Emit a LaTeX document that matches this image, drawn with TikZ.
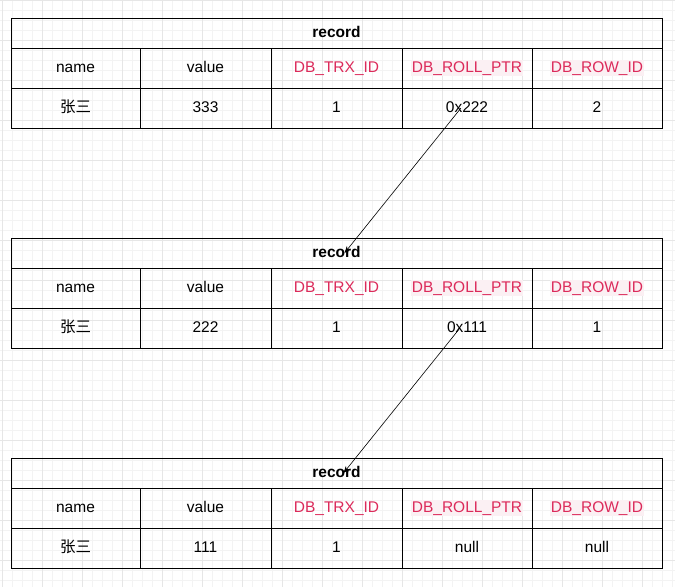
\documentclass[tikz,border=0pt]{standalone}
\usepackage{fontspec}
\setmainfont{Liberation Sans}
\newfontfamily\cjk{Noto Sans CJK SC}
\usetikzlibrary{arrows.meta}
\definecolor{fieldred}{HTML}{DC2A5A}
\definecolor{fieldbg}{HTML}{FBF0F3}
\definecolor{gridminor}{HTML}{F3F3F3}
\definecolor{gridmajor}{HTML}{E6E6E6}
\newcommand{\hl}[1]{{\setlength{\fboxsep}{1pt}\colorbox{fieldbg}{#1}}}
\begin{document}
\begin{tikzpicture}[x=1pt,y=-1pt,
    box/.style={draw, line width=1pt, inner sep=0pt, minimum height=40pt, text height=11pt, text depth=3pt, font=\fontsize{15.5}{18}\selectfont},
    head/.style={box, minimum height=30pt, minimum width=651pt, font=\fontsize{15.5}{18}\selectfont\bfseries},
    field/.style={text=fieldred},
    link/.style={-{Stealth[length=7pt,width=5pt]}, line width=0.6pt}]
        \useasboundingbox (0,0) rectangle (675,587);
        \fill[white] (0,0) rectangle (675,587);

        % grid
        \foreach \x in {2,12,...,672}{
            \draw[gridminor, line width=0.6pt] (\x,0)--(\x,587);
        }
        \foreach \y in {0,10,...,580}{
            \draw[gridminor, line width=0.6pt] (0,\y)--(675,\y);
        }
        \foreach \x in {2,42,...,672}{
            \draw[gridmajor, line width=0.6pt] (\x,0)--(\x,587);
        }
        \foreach \y in {0,40,...,580}{
            \draw[gridmajor, line width=0.6pt] (0,\y)--(675,\y);
        }

        % tables
        \foreach \t/\top/\val/\trx/\ptr/\row in {1/18/333/1/0x222/2, 2/238/222/1/0x111/1, 3/458/111/1/null/null}{
            \node[head] (t\t-head) at (336.5,\top+15) {record};

            \node[box, minimum width=129pt] (t\t-name) at (75.5,\top+50) {name};
            \node[box, minimum width=131pt] (t\t-value) at (205.5,\top+50) {value};
            \node[box, field, minimum width=131pt] (t\t-trx) at (336.5,\top+50) {DB\_TRX\_ID};
            \node[box, field, minimum width=130pt] (t\t-ptr) at (467,\top+50) {\hl{DB\_ROLL\_PTR}};
            \node[box, field, minimum width=130pt] (t\t-row) at (597,\top+50) {\hl{DB\_ROW\_ID}};

            \node[box, minimum width=129pt] (t\t-name-val) at (75.5,\top+90) {\cjk 张三};
            \node[box, minimum width=131pt] (t\t-value-val) at (205.5,\top+90) {\val};
            \node[box, minimum width=131pt] (t\t-trx-val) at (336.5,\top+90) {\trx};
            \node[box, minimum width=130pt] (t\t-ptr-val) at (467,\top+90) {\ptr};
            \node[box, minimum width=130pt] (t\t-row-val) at (597,\top+90) {\row};
        }

        % roll pointers
        \draw[link] ([xshift=-6pt]t1-ptr-val.center) -- ([xshift=8pt]t2-head.center);
        \draw[link] ([xshift=-7pt]t2-ptr-val.center) -- ([xshift=7pt]t3-head.center);
    \end{tikzpicture}
\end{document}
